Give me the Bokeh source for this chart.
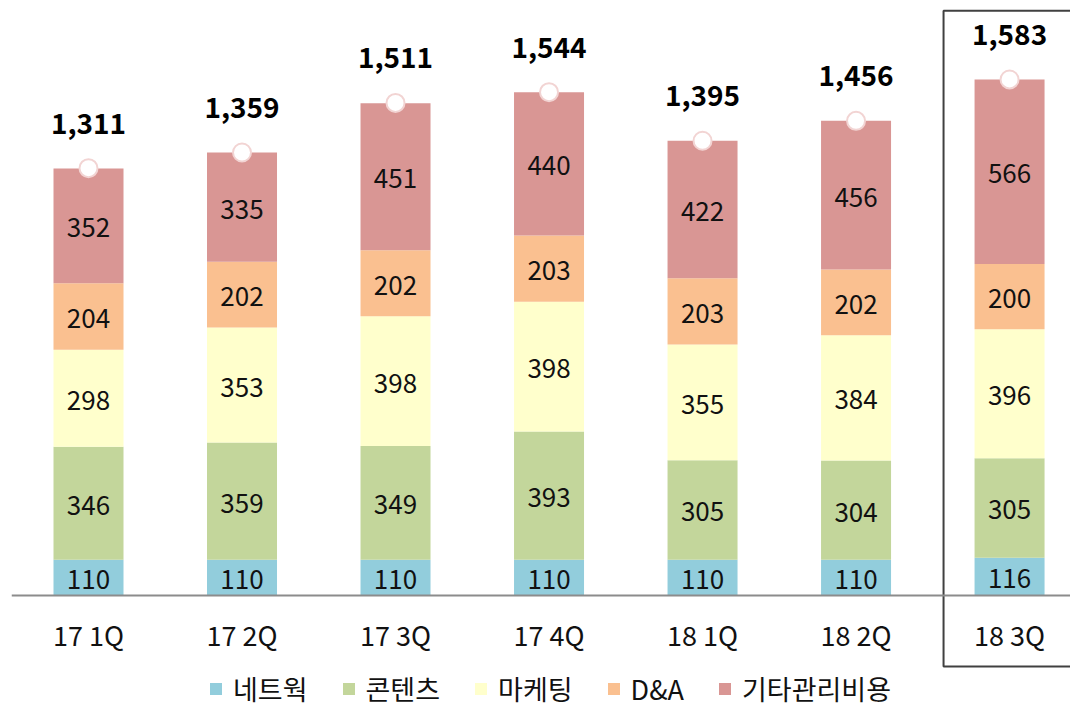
from bokeh.plotting import figure
from bokeh.models import ColumnDataSource, Range1d, LinearAxis, FixedTicker
from bokeh.core.properties import value
from bokeh.embed import file_html
from bokeh.resources import INLINE

categories = ["17 1Q", "17 2Q", "17 3Q", "17 4Q", "18 1Q", "18 2Q", "18 3Q"]
network = [110, 110, 110, 110, 110, 110, 116]
contents = [346, 359, 349, 393, 305, 304, 305]
marketing = [298, 353, 398, 398, 355, 384, 396]
dna = [204, 202, 202, 203, 203, 202, 200]
other = [352, 335, 451, 440, 422, 456, 566]
totals = [1311, 1359, 1511, 1544, 1395, 1456, 1583]

series_keys = ["network", "contents", "marketing", "dna", "other"]
series_labels = ["네트웍", "콘텐츠", "마케팅", "D&A", "기타관리비용"]
series_colors = ["#92CDDC", "#C3D69B", "#FFFFCC", "#FAC090", "#D99694"]

FONT = "Noto Sans CJK KR"
n = len(categories)
xs = list(range(n))

data = dict(x=xs, network=network, contents=contents, marketing=marketing,
            dna=dna, other=other, total=totals,
            total_label=[f"{t:,}" for t in totals])
source = ColumnDataSource(data)

p = figure(width=1070, height=708, output_backend="svg", toolbar_location=None,
           x_axis_type=None, y_axis_type=None,
           x_range=Range1d(-0.5016, 6.397), y_range=Range1d(-346.6, 1825.2),
           min_border_left=11, min_border_right=0, min_border_top=0, min_border_bottom=0,
           outline_line_color=None)
p.grid.visible = False
p.background_fill_color = "white"

p.vbar_stack(series_keys, x="x", width=0.456, color=series_colors, source=source,
             legend_label=series_labels, line_color=None)

# segment labels
seg_x, seg_y, seg_t = [], [], []
for i in range(n):
    base = 0
    for key in series_keys:
        v = data[key][i]
        seg_x.append(i)
        seg_y.append(base + v / 2)
        seg_t.append(str(v))
        base += v
p.text(x=seg_x, y=seg_y, text=seg_t, text_align="center", text_baseline="middle",
       y_offset=2, text_font=value(FONT), text_font_size="26px", text_color="#111111")

# total markers and labels
p.scatter(x="x", y="total", source=source, size=18, fill_color="white",
          line_color="#F2D4D3", line_width=2)
p.text(x="x", y="total", text="total_label", source=source, y_offset=-45,
       text_align="center", text_baseline="middle", text_font=value(FONT),
       text_font_size="28px", text_font_style="bold", text_color="black")

# highlight box around last category
last = n - 1
p.quad(left=[last - 0.43], right=[last + 0.7], bottom=[-218], top=[1794],
       fill_alpha=0, line_color="#404040", line_width=2)

xaxis = LinearAxis(fixed_location=0, ticker=FixedTicker(ticks=xs),
                   major_label_overrides={i: c for i, c in zip(xs, categories)})
xaxis.axis_line_color = "#8C8C8C"
xaxis.axis_line_width = 2
xaxis.major_tick_line_color = None
xaxis.minor_tick_line_color = None
xaxis.major_label_standoff = 13
xaxis.major_label_text_font = FONT
xaxis.major_label_text_font_size = "27px"
xaxis.major_label_text_color = "#111111"
p.add_layout(xaxis, "below")

lg = p.legend[0]
lg.orientation = "horizontal"
lg.location = (197, 0)
lg.padding = 0
lg.margin = 0
lg.spacing = 33
lg.glyph_width = 15
lg.glyph_height = 15
lg.label_standoff = 10
lg.label_text_font = FONT
lg.label_text_font_size = "27px"
lg.label_text_color = "#111111"
lg.border_line_color = None
lg.background_fill_alpha = 0

open("out.html", "w").write(file_html(p, INLINE))
